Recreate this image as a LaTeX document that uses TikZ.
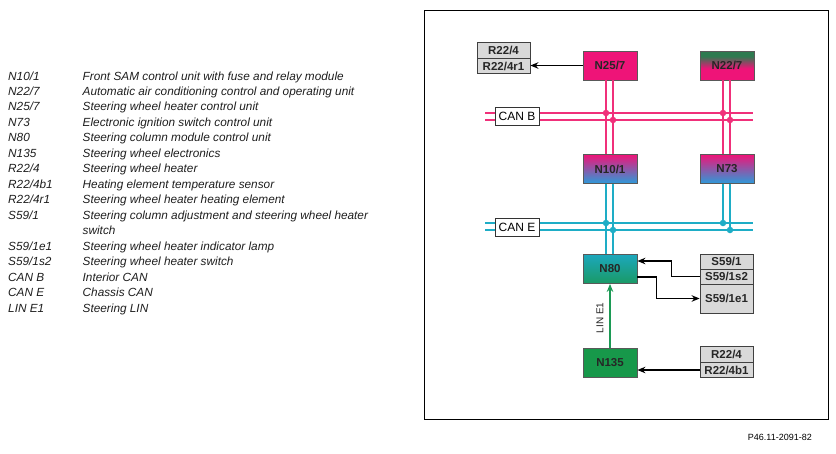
\documentclass[tikz,border=0pt]{standalone}
\usepackage{fontspec}
\setmainfont{Liberation Sans}
\usetikzlibrary{arrows.meta,calc}
\definecolor{pk}{HTML}{EE1478}
\definecolor{pkline}{HTML}{F0307A}
\definecolor{cyline}{HTML}{1EADC6}
\definecolor{blu}{HTML}{2C9BDA}
\definecolor{teal1}{HTML}{1CA7BC}
\definecolor{grn1}{HTML}{1A9A66}
\definecolor{grn2}{HTML}{17984A}
\definecolor{grnline}{HTML}{1C9A55}
\definecolor{dgrn}{HTML}{2E7A50}
\definecolor{gbx}{HTML}{D9D9D9}
\definecolor{txt}{HTML}{1E1E1E}
\pgfdeclareverticalshading{greenpink}{100bp}{color(0bp)=(pk); color(25bp)=(pk); color(45bp)=(pk); color(66bp)=(dgrn); color(75bp)=(dgrn); color(100bp)=(dgrn)}
\tikzset{
  ecu/.style={draw=black!65, line width=0.8pt, minimum width=54pt, minimum height=29pt,
    inner sep=0pt, font=\fontsize{11.5}{12}\selectfont\bfseries, text=black!85},
  gbox/.style={draw=black!75, line width=0.8pt, fill=gbx, minimum width=53pt,
    inner sep=0pt, font=\fontsize{11.5}{12}\selectfont\bfseries, text=black!85},
  canbox/.style={draw=black!80, line width=0.8pt, fill=white, minimum width=44pt,
    minimum height=18pt, inner sep=0pt, font=\fontsize{12}{12}\selectfont},
  canB/.style={draw=pkline, line width=2pt},
  canE/.style={draw=cyline, line width=2pt},
  arr/.style={draw=black, line width=1.4pt, -{Stealth[length=8pt,width=6.5pt]}},
  linarr/.style={draw=grnline, line width=1.8pt, -{Stealth[length=8pt,width=6.5pt]}},
  legk/.style={anchor=base west, inner sep=0pt, text=txt, font=\fontsize{11.8}{12}\selectfont\itshape},
  dotB/.style={fill=pkline, draw=none, circle, minimum size=6.5pt, inner sep=0pt},
  dotE/.style={fill=cyline, draw=none, circle, minimum size=6.5pt, inner sep=0pt}
}
\begin{document}
\begin{tikzpicture}[x=1pt,y=-1pt]
\useasboundingbox (0,0) rectangle (836,453);
\draw[line width=1pt] (424,10) rectangle (828,419);

% legend
\foreach \k/\d [count=\i from 0] in {
  {N10/1}/{Front SAM control unit with fuse and relay module},
  {N22/7}/{Automatic air conditioning control and operating unit},
  {N25/7}/{Steering wheel heater control unit},
  {N73}/{Electronic ignition switch control unit},
  {N80}/{Steering column module control unit},
  {N135}/{Steering wheel electronics},
  {R22/4}/{Steering wheel heater},
  {R22/4b1}/{Heating element temperature sensor},
  {R22/4r1}/{Steering wheel heater heating element},
  {S59/1}/{Steering column adjustment and steering wheel heater},
  {}/{switch},
  {S59/1e1}/{Steering wheel heater indicator lamp},
  {S59/1s2}/{Steering wheel heater switch},
  {CAN B}/{Interior CAN},
  {CAN E}/{Chassis CAN},
  {LIN E1}/{Steering LIN}}{
  \node[legk] (lk\i) at (8,{80+15.47*\i}) {\k};
  \node[legk] (ld\i) at (82.5,{80+15.47*\i}) {\d};
}

% bus lines
\coordinate (bBl1) at (485,113); \coordinate (bBr1) at (753,113);
\coordinate (bBl2) at (485,120); \coordinate (bBr2) at (753,120);
\coordinate (bEl1) at (485,223); \coordinate (bEr1) at (753,223);
\coordinate (bEl2) at (485,230); \coordinate (bEr2) at (753,230);

% ECUs
\node[ecu, fill=pk] (n257) at (610,65.5) {N25/7};
\node[ecu, shading=greenpink] (n227) at (727,65.5) {N22/7};
\node[ecu, top color=pk, bottom color=blu] (n101) at (610,169) {N10/1};
\node[ecu, top color=pk, bottom color=blu] (n73) at (727,169) {N73};
\node[ecu, top color=teal1, bottom color=grn1] (n80) at (610,269) {N80};
\node[ecu, fill=grn2] (n135) at (610,363) {N135};

% CAN B
\draw[canB] (bBl1) -- (bBr1);
\draw[canB] (bBl2) -- (bBr2);
\draw[canB] ([xshift=-4pt]n257.south) -- ([xshift=-4pt]n101.north);
\draw[canB] ([xshift=3pt]n257.south) -- ([xshift=3pt]n101.north);
\draw[canB] ([xshift=-4pt]n227.south) -- ([xshift=-4pt]n73.north);
\draw[canB] ([xshift=3pt]n227.south) -- ([xshift=3pt]n73.north);
\node[dotB] (d1) at (606,113) {};
\node[dotB] (d2) at (613,120) {};
\node[dotB] (d3) at (723,113) {};
\node[dotB] (d4) at (730,120) {};
\node[canbox] (canb) at (517,116) {CAN B};

% CAN E
\draw[canE] (bEl1) -- (bEr1);
\draw[canE] (bEl2) -- (bEr2);
\draw[canE] ([xshift=-4pt]n101.south) -- ([xshift=-4pt]n80.north);
\draw[canE] ([xshift=3pt]n101.south) -- ([xshift=3pt]n80.north);
\node[dotE] (e1) at (606,223) {};
\node[dotE] (e2) at (613,230) {};
\node[dotE] (e3) at (723,223) {};
\node[dotE] (e4) at (730,230) {};
\draw[canE] ([xshift=-4pt]n73.south) -- (e3.center);
\draw[canE] ([xshift=3pt]n73.south) -- (e4.center);
\node[canbox] (cane) at (517,227) {CAN E};

% gray boxes
\node[gbox, minimum height=15.5pt] (r224a) at (503.5,50.5) {R22/4};
\node[gbox, minimum height=15.5pt] (r224r1) at (503.5,66) {R22/4r1};
\node[gbox, minimum height=15pt] (s591) at (726.5,261.5) {S59/1};
\node[gbox, minimum height=15pt] (s2) at (726.5,276.5) {S59/1s2};
\node[gbox, minimum height=29pt] (e1box) at (726.5,298.5) {S59/1e1};
\node[gbox, minimum height=15.5pt] (r224b) at (726.5,354.5) {R22/4};
\node[gbox, minimum height=15.5pt] (b1) at (726.5,370) {R22/4b1};

% arrows
\draw[arr] (n257.west) -- (n257.west -| r224r1.east);
\draw[arr] (s2.west) -- ++(-28,0) |- ([yshift=8pt]n80.east);
\draw[arr] ([yshift=-8pt]n80.east) -- ++(19,0) |- (e1box.west);
\draw[arr] (b1.west) -- (b1.west -| n135.east);
\draw[linarr] (n135.north) -- (n80.south);
\node[rotate=90, inner sep=0pt, font=\fontsize{10}{12}\selectfont, text=black!85] (lin) at (600,318) {LIN E1};

% footer
\node[anchor=base east, inner sep=0pt, font=\fontsize{9}{10}\selectfont] (foot) at (812,440) {P46.11-2091-82};
\end{tikzpicture}
\end{document}
